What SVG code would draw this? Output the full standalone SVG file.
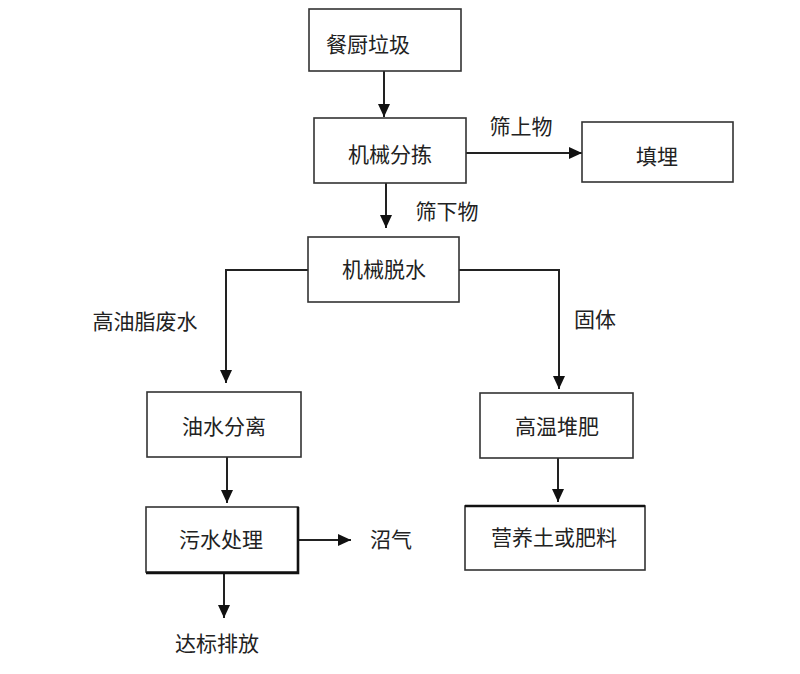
<svg xmlns="http://www.w3.org/2000/svg" width="800" height="674" viewBox="0 0 800 674">
<style>
.box{fill:#fff;stroke:#333;stroke-width:1.6}
.t{font-family:"Noto Sans CJK SC","Noto Sans",sans-serif;font-size:21px;fill:#222;text-anchor:middle}
.c{fill:none;stroke:#222;stroke-width:2}
</style>
<defs>
<marker id="ah" markerUnits="userSpaceOnUse" markerWidth="14" markerHeight="14" viewBox="0 0 14 14" refX="13" refY="7" orient="auto">
<path d="M0,1 L13,7 L0,13 Z" fill="#111"/>
</marker>
</defs>
<rect width="800" height="674" fill="#fff"/>
<g id="connectors">
<line class="c" x1="384" y1="71" x2="384" y2="117" marker-end="url(#ah)"/>
<line class="c" x1="466" y1="153" x2="582" y2="153" marker-end="url(#ah)"/>
<line class="c" x1="386" y1="183" x2="386" y2="228" marker-end="url(#ah)"/>
<polyline class="c" points="308,270 226,270 226,383" marker-end="url(#ah)"/>
<polyline class="c" points="459,270 559,270 559,389" marker-end="url(#ah)"/>
<line class="c" x1="227" y1="457" x2="227" y2="503" marker-end="url(#ah)"/>
<line class="c" x1="558" y1="458" x2="558" y2="502" marker-end="url(#ah)"/>
<line class="c" x1="298" y1="540" x2="351" y2="540" marker-end="url(#ah)"/>
<line class="c" x1="224" y1="573" x2="224" y2="618" marker-end="url(#ah)"/>
</g>
<g id="n1"><rect class="box" x="309" y="9" width="152" height="62"/><text class="t" x="368" y="52">餐厨垃圾</text></g>
<g id="n2"><rect class="box" x="314" y="118" width="152" height="65"/><text class="t" x="390" y="162">机械分拣</text></g>
<g id="n3"><rect class="box" x="582" y="122" width="151" height="60"/><text class="t" x="657" y="164">填埋</text></g>
<g id="n4"><rect class="box" x="308" y="237" width="151" height="65"/><text class="t" x="384" y="277">机械脱水</text></g>
<g id="n5"><rect class="box" x="147" y="392" width="154" height="65"/><text class="t" x="224" y="434">油水分离</text></g>
<g id="n6"><rect class="box" x="480" y="393" width="153" height="65"/><text class="t" x="557" y="434">高温堆肥</text></g>
<g id="n7"><rect class="box" x="146" y="507" width="152" height="65"/><path d="M298,507 L298,573 L146,573" fill="none" stroke="#111" stroke-width="2.6"/><text class="t" x="221" y="547">污水处理</text></g>
<g id="n8"><rect class="box" x="465" y="506" width="180" height="64"/><line x1="465" y1="506" x2="645" y2="506" stroke="#111" stroke-width="2.6"/><text class="t" x="554" y="545">营养土或肥料</text></g>
<g id="labels">
<text class="t" x="521" y="134">筛上物</text>
<text class="t" x="447" y="219">筛下物</text>
<text class="t" x="145" y="329">高油脂废水</text>
<text class="t" x="595" y="327">固体</text>
<text class="t" x="391" y="547">沼气</text>
<text class="t" x="217" y="651">达标排放</text>
</g>
</svg>
